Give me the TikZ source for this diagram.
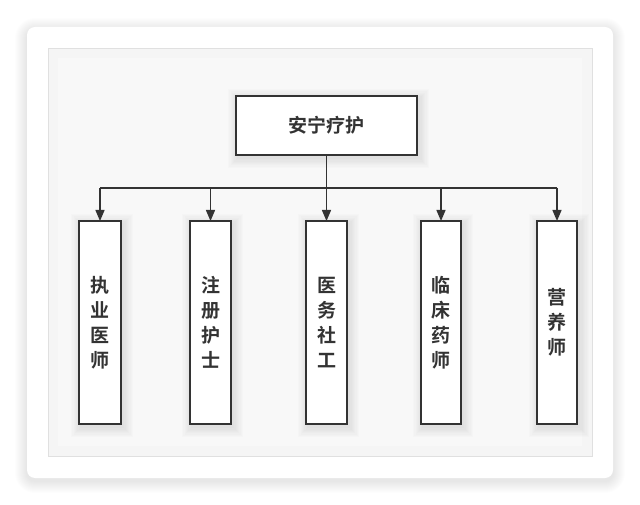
\documentclass[tikz,border=0pt]{standalone}
\usepackage{fontspec}
\newfontfamily\cjk{Noto Sans CJK SC Bold}
\usetikzlibrary{arrows.meta,positioning}
\definecolor{lc}{HTML}{333333}
\definecolor{innerbg}{HTML}{F8F8F8}
\tikzset{
  x=1pt,y=-1pt,
  box/.style={draw=lc,line width=1.6pt,fill=white,inner sep=0pt,outer sep=0pt,
    font=\cjk\fontsize{19}{25}\selectfont,text=lc,align=center},
  conn/.style={draw=lc,line width=1.4pt},
  arr/.style={conn,-{Triangle[length=11pt,width=9pt]}},
}
\newcommand{\mysoftshadow}[5]{% x1 y1 x2 y2 radius
  \foreach \i in {1,...,8}{
    \fill[black,opacity=0.012] ({#1-\i*#5/8+2},{#2-\i*#5/8+3}) rectangle ({#3+\i*#5/8+2},{#4+\i*#5/8+3});
  }
}
\begin{document}
\begin{tikzpicture}
\useasboundingbox (0,0) rectangle (640,505);
\fill[white] (0,0) rectangle (640,505);
% outer card shadow
\foreach \i in {1,...,12}{
  \fill[black,opacity=0.008,rounded corners={8+\i}] ({27-\i},{27-\i+3}) rectangle ({613+\i},{478+\i+3});
}
\fill[white,rounded corners=8] (27,27) rectangle (613,478);
% inner area with inner shadow
\fill[innerbg] (48,48) rectangle (592,456);
\foreach \i in {0,...,9}{
  \draw[black,opacity=0.012,line width=1pt] ({48+\i+0.5},{48+\i+0.5}) rectangle ({592-\i-0.5},{456-\i-0.5});
}
\draw[black!12,line width=0.8pt] (48,48) rectangle (592,456);
% shadows of boxes
\mysoftshadow{236}{96}{417}{155}{10}
\mysoftshadow{79}{221}{121}{424}{10}
\mysoftshadow{190}{221}{231}{424}{10}
\mysoftshadow{306}{221}{347}{424}{10}
\mysoftshadow{421}{221}{461}{424}{10}
\mysoftshadow{537}{221}{577}{424}{10}
% nodes
\node[box,minimum width=181pt,minimum height=59pt] (top) at (326.5,125.5) {安宁疗护};
\node[box,minimum width=42pt,minimum height=203pt] (b1) at (100,322.5) {执\\业\\医\\师};
\node[box,minimum width=41pt,minimum height=203pt] (b2) at (210.5,322.5) {注\\册\\护\\士};
\node[box,minimum width=41pt,minimum height=203pt] (b3) at (326.5,322.5) {医\\务\\社\\工};
\node[box,minimum width=40pt,minimum height=203pt] (b4) at (441,322.5) {临\\床\\药\\师};
\node[box,minimum width=40pt,minimum height=203pt] (b5) at (557,322.5) {营\\养\\师};
% connectors
\coordinate (j) at (326.5,188);
\coordinate (l) at (100,188);
\coordinate (r) at (557,188);
\draw[conn] (top.south) -- (j);
\draw[conn] (l) -- (r);
\draw[arr] (l) -- (b1.north);
\draw[arr] (b2.north |- j) -- (b2.north);
\draw[arr] (j) -- (b3.north);
\draw[arr] (b4.north |- j) -- (b4.north);
\draw[arr] (r) -- (b5.north);
\end{tikzpicture}
\end{document}
